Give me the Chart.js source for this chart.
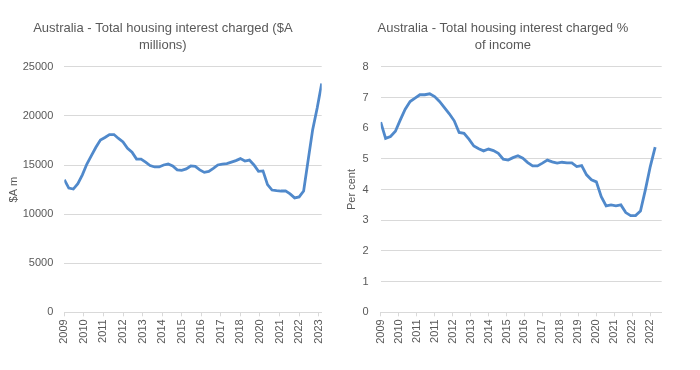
<!DOCTYPE html>
<html><head><meta charset="utf-8">
<script src="https://cdn.jsdelivr.net/npm/chart.js@4.4.0/dist/chart.umd.min.js"></script>
<style>
html,body{margin:0;padding:0;background:#fff;width:700px;height:370px;overflow:hidden}
#w1{position:absolute;left:4px;top:0;width:346px;height:370px}
#w2{position:absolute;left:344px;top:0;width:356px;height:370px}
</style></head><body>
<div id="w1"><canvas id="c1" width="346" height="370"></canvas></div>
<div id="w2"><canvas id="c2" width="356" height="370"></canvas></div>
<script>
// Quarterly categories (YYYY-MM), Mar 2009 onward
function quarterList(n){const a=[];for(let i=0;i<n;i++){const m=2+i*3;a.push((2009+Math.floor(m/12))+'-'+String(m%12+1).padStart(2,'0'));}return a;}
const interestQuarters = quarterList(58);   // Mar 2009 - Jun 2023
const shareQuarters = quarterList(57);      // Mar 2009 - Mar 2023

const interestValues = [13500,12650,12550,13100,14000,15100,15950,16800,17550,17800,
  18100,18100,17700,17350,16700,16300,15600,15600,15300,14950,
  14800,14800,15000,15100,14900,14500,14450,14600,14900,14850,
  14500,14250,14350,14650,15000,15100,15150,15300,15450,15650,
  15400,15500,15000,14350,14400,13000,12450,12380,12350,12370,
  12050,11650,11750,12350,15500,18600,20800,23300];
const interestTickLabels = ['2009','2010','2011','2012','2013','2014','2015','2016','2017','2018','2020','2021','2022','2023'];

const shareValues = [6.2,5.67,5.73,5.9,6.27,6.62,6.87,6.98,7.09,7.09,
  7.12,7.03,6.87,6.67,6.47,6.24,5.86,5.83,5.64,5.42,
  5.33,5.26,5.32,5.27,5.18,4.99,4.96,5.04,5.1,5.02,
  4.88,4.77,4.77,4.86,4.96,4.9,4.86,4.89,4.87,4.87,
  4.75,4.78,4.48,4.32,4.25,3.77,3.47,3.5,3.47,3.5,
  3.25,3.15,3.15,3.3,3.99,4.75,5.38];
const shareTickLabels = ['2009','2010','2011','2011','2012','2013','2014','2015','2016','2017','2018','2019','2020','2021','2022','2022'];

function monthOffset(q){const [y,m]=q.split('-').map(Number);return (y-2009)*12+(m-3);}

const FONT = '"Liberation Sans", Arial, sans-serif';
const GREY = '#595959';
const GRID = '#d9d9d9';
const LINE = '#5089cb';

function makeChart(id, opts){
  const pts = opts.quarters.map((q,i)=>({x:monthOffset(q), y:opts.values[i]}));
  return new Chart(document.getElementById(id), {
    type:'line',
    data:{datasets:[{data:pts, borderColor:LINE, borderWidth:2.8, pointRadius:0, tension:0, fill:false}]},
    options:{
      responsive:false, animation:false, devicePixelRatio:1,
      layout:{padding:{left:0,right:opts.padRight,top:0,bottom:0}},
      plugins:{
        legend:{display:false}, tooltip:{enabled:false},
        title:{display:true, text:opts.title, color:GREY, font:{family:FONT,size:13,weight:'normal',lineHeight:1.3}, padding:{top:20,bottom:opts.titleBottom}}
      },
      scales:{
        x:{type:'linear', min:0, max:opts.xMax,
          afterFit(s){s.height=57.7; s.paddingLeft=0; s.paddingRight=0;},
          ticks:{stepSize:opts.step, maxTicksLimit:100, includeBounds:false, autoSkip:false, maxRotation:90, minRotation:90, padding:3,
            color:GREY, font:{family:FONT,size:11},
            callback:(v)=>opts.tickLabels[Math.round(v/opts.step)]},
          grid:{display:true, drawOnChartArea:false, drawTicks:true, tickLength:4, color:GRID},
          border:{display:true, color:GRID, width:1}
        },
        y:{min:0, max:opts.yMax,
          afterFit(s){s.width=opts.yWidth;},
          ticks:{stepSize:opts.yStep, padding:opts.yPad, color:GREY, font:{family:FONT,size:11},
            callback:(v)=>String(v)},
          grid:{color:GRID, drawTicks:false, lineWidth:1},
          border:{display:false},
          title:{display:true, text:opts.yTitle, color:GREY, font:{family:FONT,size:11}, padding:{top:opts.yTitlePad,bottom:0}}
        }
      }
    }
  });
}

makeChart('c1', {quarters:interestQuarters, values:interestValues, tickLabels:interestTickLabels,
  title:['Australia - Total housing interest charged ($A','millions)'], titleBottom:13,
  padRight:28.3, xMax:171, step:13, yMax:25000, yStep:5000, yWidth:60.3, yPad:11, yTitle:'$A m', yTitlePad:3});

makeChart('c2', {quarters:shareQuarters, values:shareValues, tickLabels:shareTickLabels,
  title:['Australia - Total housing interest charged %','of income'], titleBottom:13,
  padRight:38.3, xMax:172, step:11, yMax:8, yStep:1, yWidth:36.7, yPad:12, yTitle:'Per cent', yTitlePad:1});
</script>
</body></html>
